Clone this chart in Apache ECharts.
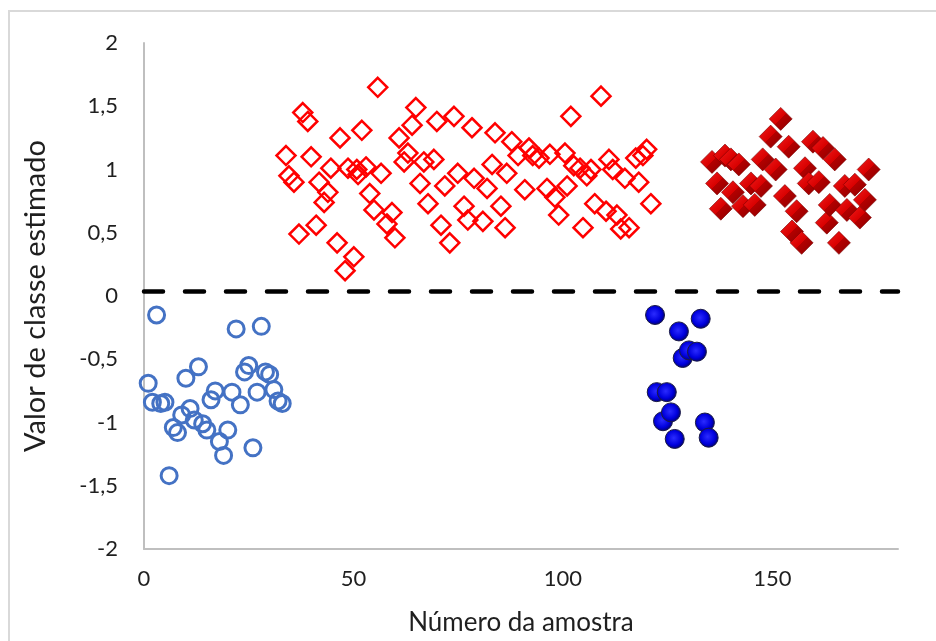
<!DOCTYPE html>
<html>
<head>
<meta charset="utf-8">
<script src="https://cdn.jsdelivr.net/npm/echarts/dist/echarts.min.js"></script>
<style>
html,body{margin:0;padding:0;background:#fff;}
#c{width:936px;height:641px;}
</style>
</head>
<body>
<div id="c"></div>
<script>
// ---- data ----
const xTickLabels = [0, 50, 100, 150];
const threshold = [0.035];

const blueOpenX = [1,2,3,4,5,6,7,8,9,10,11,12,13,14,15,16,17,18,19,20,21,22,23,24,25,26,27,28,29,30,31,32,33];
const blueOpenY = [-0.69,-0.84,-0.15,-0.85,-0.84,-1.42,-1.04,-1.08,-0.94,-0.65,-0.89,-0.98,-0.56,-1.01,-1.06,-0.82,-0.75,-1.15,-1.26,-1.06,-0.76,-0.26,-0.86,-0.60,-0.55,-1.20,-0.76,-0.24,-0.60,-0.62,-0.74,-0.83,-0.85];

const redOpenX = [33.9,34.6,35.8,37.0,37.9,39.1,39.9,41.1,41.8,43.0,43.9,44.6,46.1,46.8,48.0,48.7,50.1,50.8,51.1,52.0,53.0,53.9,54.9,55.8,56.6,58.0,59.2,59.9,60.9,62.1,63.0,64.0,64.9,65.9,66.8,67.8,69.2,69.9,70.9,71.8,73.0,74.0,74.9,76.4,77.3,78.3,78.8,80.9,81.9,83.1,83.8,85.2,86.2,86.6,87.8,89.3,90.9,91.9,92.8,94.3,96.2,96.9,98.1,99.0,100.5,101.0,101.9,102.6,104.1,104.8,105.7,106.7,107.6,109.1,110.3,111.0,111.9,112.9,113.8,114.8,115.8,117.4,118.1,119.1,120.0,121.0];
const redOpenY = [1.11,0.95,0.90,0.49,1.45,1.38,1.10,0.56,0.90,0.74,0.82,1.01,0.42,1.25,0.20,1.01,0.31,1.00,0.96,1.31,1.02,0.81,0.68,1.65,0.97,0.57,0.66,0.46,1.25,1.06,1.13,1.35,1.49,0.89,1.06,0.73,1.08,1.38,0.56,0.87,0.42,1.42,0.97,0.71,0.60,1.33,0.93,0.59,0.85,1.04,1.29,0.71,0.54,0.97,1.22,1.11,0.84,1.17,1.11,1.09,0.85,1.12,0.78,0.64,1.13,0.87,1.42,1.03,1.01,0.54,0.95,1.00,0.73,1.58,0.67,1.08,1.00,0.64,0.53,0.93,0.54,1.09,0.90,1.11,1.16,0.73];

const blueFilledX = [122.0,122.4,123.9,124.8,125.8,126.7,127.7,128.6,130.1,132.0,132.9,133.9,134.8];
const blueFilledY = [-0.15,-0.76,-0.99,-0.76,-0.92,-1.13,-0.28,-0.49,-0.43,-0.44,-0.18,-1.00,-1.12];

const redFilledX = [135.6,136.8,137.7,138.7,140.1,140.6,142.0,143.0,144.9,145.8,147.3,147.7,149.6,150.8,152.0,153.0,153.9,154.7,155.8,157.0,157.8,158.7,159.7,161.1,162.1,163.0,163.7,164.9,165.9,167.3,167.8,169.7,170.9,172.1,173.0];
const redFilledY = [1.06,0.89,0.69,1.11,1.08,0.82,1.04,0.71,0.89,0.72,0.87,1.08,1.26,1.00,1.40,0.79,1.18,0.51,0.67,0.42,1.01,0.89,1.22,0.90,1.17,0.58,0.72,1.08,0.42,0.87,0.68,0.88,0.62,0.76,1.00];

// ---- build chart ----
const zip = (xs, ys) => xs.map((x, i) => [x, ys[i]]);
const FONT = 'Lato';

const chart = echarts.init(document.getElementById('c'), null, {renderer: 'canvas'});
chart.setOption({
  animation: false,
  backgroundColor: '#ffffff',
  graphic: [{
    type: 'rect', silent: true, z: -10,
    shape: {x: 9, y: 11, width: 940, height: 640},
    style: {fill: 'none', stroke: '#d9d9d9', lineWidth: 2}
  }],
  grid: {left: 144, right: 38, top: 43, bottom: 88, containLabel: false},
  xAxis: {
    type: 'value', min: 0, max: 180, interval: 50,
    name: 'Número da amostra', nameLocation: 'middle', nameGap: 61,
    nameTextStyle: {fontFamily: FONT, fontSize: 26, color: '#1f1f1f'},
    axisLine: {show: true, onZero: false, lineStyle: {color: '#bfbfbf', width: 2}},
    axisTick: {show: false},
    splitLine: {show: false},
    axisLabel: {
      fontFamily: FONT, fontSize: 22, color: '#1f1f1f', margin: 19,
      formatter: v => (xTickLabels.indexOf(v) >= 0 ? String(v) : '')
    }
  },
  yAxis: {
    type: 'value', min: -2, max: 2, interval: 0.5,
    name: 'Valor de classe estimado', nameLocation: 'middle', nameGap: 94, nameRotate: 90,
    nameTextStyle: {fontFamily: FONT, fontSize: 29, color: '#1f1f1f'},
    axisLine: {show: true, lineStyle: {color: '#bfbfbf', width: 2}},
    axisTick: {show: false},
    splitLine: {show: false},
    axisLabel: {
      fontFamily: FONT, fontSize: 22, color: '#1f1f1f', margin: 26,
      formatter: v => String(v).replace('.', ',')
    }
  },
  series: [
    {
      name: 'limiar', type: 'scatter', data: [], silent: true,
      markLine: {
        silent: true, symbol: 'none', label: {show: false},
        lineStyle: {color: '#000000', width: 4.5, type: [19, 22], cap: 'round'},
        data: threshold.map(t => ({yAxis: t}))
      }
    },
    {
      name: 'classe -1 (treino)', type: 'scatter', symbol: 'circle', symbolSize: 16,
      data: zip(blueOpenX, blueOpenY),
      itemStyle: {color: 'rgba(255,255,255,0)', borderColor: '#4472C4', borderWidth: 3, opacity: 1}
    },
    {
      name: 'classe 1 (treino)', type: 'scatter', symbol: 'diamond', symbolSize: 19,
      data: zip(redOpenX, redOpenY),
      itemStyle: {color: 'rgba(255,255,255,0)', borderColor: '#FF0000', borderWidth: 2.5, opacity: 1}
    },
    {
      name: 'classe -1 (teste)', type: 'scatter', symbol: 'circle', symbolSize: 19,
      data: zip(blueFilledX, blueFilledY),
      itemStyle: {
        opacity: 1,
        color: {type: 'radial', x: 0.45, y: 0.45, r: 0.6, colorStops: [
          {offset: 0, color: '#2b2bff'}, {offset: 0.6, color: '#0000dd'}, {offset: 1, color: '#00005a'}
        ]},
        borderColor: '#1b1b45', borderWidth: 1
      }
    },
    {
      name: 'classe 1 (teste)', type: 'scatter', symbol: 'diamond', symbolSize: 23,
      data: zip(redFilledX, redFilledY),
      itemStyle: {
        opacity: 1,
        color: {type: 'linear', x: 0, y: 0, x2: 1, y2: 1, colorStops: [
          {offset: 0, color: '#f21c1c'}, {offset: 0.5, color: '#d80000'},
          {offset: 0.5, color: '#b30000'}, {offset: 1, color: '#8a0000'}
        ]},
        borderColor: '#7a0000', borderWidth: 0.6
      }
    }
  ]
});
</script>
</body>
</html>
